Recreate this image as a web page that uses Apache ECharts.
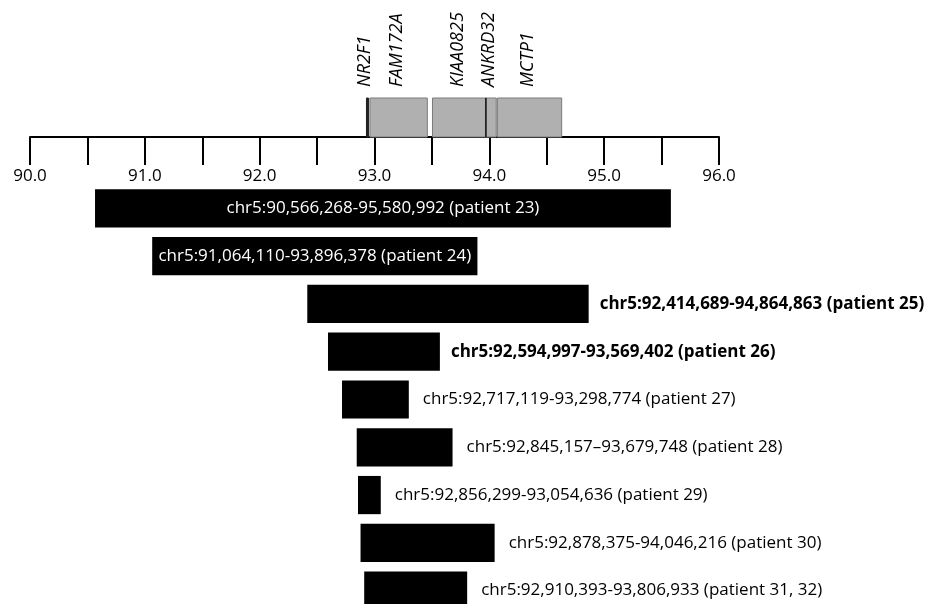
<!DOCTYPE html>
<html>
<head>
<meta charset="utf-8">
<script src="https://cdn.jsdelivr.net/npm/echarts@6/dist/echarts.min.js"></script>
<style>
  html, body { margin: 0; padding: 0; background: #fff; }
  #chart { width: 936px; height: 604px; }
</style>
</head>
<body>
<div id="chart"></div>
<script>
// genes above the axis (Mb)
const geneNames = ['NR2F1', 'FAM172A', 'KIAA0825', 'ANKRD32', 'MCTP1'];
const geneStarts = [92.93, 92.96, 93.505, 93.97, 94.07];
const geneEnds = [92.945, 93.46, 93.975, 94.06, 94.63];

// deletions per patient (bp)
const patients = ['patient 23', 'patient 24', 'patient 25', 'patient 26', 'patient 27',
  'patient 28', 'patient 29', 'patient 30', 'patient 31, 32'];
const delStarts = [90566268, 91064110, 92414689, 92594997, 92717119, 92845157, 92856299, 92878375, 92910393];
const delEnds = [95580992, 93896378, 94864863, 93569402, 93298774, 93679748, 93054636, 94046216, 93806933];
const delLabels = [
  'chr5:90,566,268-95,580,992 (patient 23)',
  'chr5:91,064,110-93,896,378 (patient 24)',
  'chr5:92,414,689-94,864,863 (patient 25)',
  'chr5:92,594,997-93,569,402 (patient 26)',
  'chr5:92,717,119-93,298,774 (patient 27)',
  'chr5:92,845,157\u201393,679,748 (patient 28)',
  'chr5:92,856,299-93,054,636 (patient 29)',
  'chr5:92,878,375-94,046,216 (patient 30)',
  'chr5:92,910,393-93,806,933 (patient 31, 32)'
];

const FONT = '"Open Sans", sans-serif';
const darkEdge = { NR2F1: true };

const chart = echarts.init(document.getElementById('chart'));

const geneData = geneNames.map((g, i) => [geneStarts[i], geneEnds[i], i]);
const delData = patients.map((p, i) => [i, delStarts[i] / 1e6, delEnds[i] / 1e6]);

chart.setOption({
  animation: false,
  backgroundColor: '#fff',
  grid: [
    { left: 30, right: 217, top: 98, height: 39, outerBoundsMode: 'none' },
    { left: 30, right: 217, top: 184.5, height: 430, outerBoundsMode: 'none' }
  ],
  xAxis: [
    {
      gridIndex: 0, type: 'value', min: 90, max: 96, interval: 0.5, position: 'bottom',
      axisLine: { lineStyle: { color: '#000', width: 2 } },
      axisTick: { length: 28, lineStyle: { color: '#000', width: 2 } },
      axisLabel: {
        margin: 31, color: '#000', fontSize: 17, fontFamily: FONT,
        showMinLabel: true, showMaxLabel: true,
        formatter: v => (Math.abs(v - Math.round(v)) < 1e-6 ? v.toFixed(1) : '')
      },
      splitLine: { show: false }
    },
    { gridIndex: 1, type: 'value', min: 90, max: 96, show: false }
  ],
  yAxis: [
    { gridIndex: 0, type: 'value', min: 0, max: 1, show: false },
    { gridIndex: 1, type: 'category', data: patients, inverse: true, show: false }
  ],
  series: [
    {
      type: 'custom',
      xAxisIndex: 0, yAxisIndex: 0,
      clip: false,
      data: geneData,
      renderItem: (params, api) => {
        const a = api.coord([api.value(0), 1]);
        const b = api.coord([api.value(1), 0]);
        const name = geneNames[api.value(2)];
        const dark = darkEdge[name];
        const cx = (a[0] + b[0]) / 2;
        return {
          type: 'group',
          children: [
            {
              type: 'rect',
              shape: { x: a[0], y: a[1], width: Math.max(b[0] - a[0], 2), height: b[1] - a[1] },
              style: { fill: dark ? '#222' : '#b0b0b0', stroke: dark ? '#222' : '#7a7a7a', lineWidth: 1 }
            },
            name === 'ANKRD32' ? {
              type: 'line',
              shape: { x1: a[0], y1: a[1], x2: a[0], y2: b[1] },
              style: { stroke: '#111', lineWidth: 1.5 }
            } : null,
            {
              type: 'text',
              x: cx - 2, y: a[1] - 11,
              rotation: Math.PI / 2,
              style: {
                text: name, fontSize: 18, fontStyle: 'italic', fontFamily: FONT,
                fill: '#000', textAlign: 'left', textVerticalAlign: 'middle'
              }
            }
          ].filter(Boolean)
        };
      }
    },
    {
      type: 'custom',
      xAxisIndex: 1, yAxisIndex: 1,
      clip: false,
      data: delData,
      renderItem: (params, api) => {
        const row = api.value(0);
        const s = api.coord([api.value(1), row]);
        const e = api.coord([api.value(2), row]);
        const h = api.size([0, 1])[1] * 0.8;
        const inside = row < 2;
        const bold = row === 2 || row === 3;
        return {
          type: 'group',
          children: [
            {
              type: 'rect',
              shape: { x: s[0], y: s[1] - h / 2, width: e[0] - s[0], height: h },
              style: { fill: '#000' }
            },
            {
              type: 'text',
              x: inside ? (s[0] + e[0]) / 2 : e[0] + (bold ? 11 : 14),
              y: s[1],
              style: {
                text: delLabels[row], fontSize: 17, fontFamily: FONT,
                fontWeight: bold ? 'bold' : 'normal',
                fill: inside ? '#fff' : '#000',
                textAlign: inside ? 'center' : 'left', textVerticalAlign: 'middle'
              }
            }
          ]
        };
      }
    }
  ]
});
</script>
</body>
</html>
